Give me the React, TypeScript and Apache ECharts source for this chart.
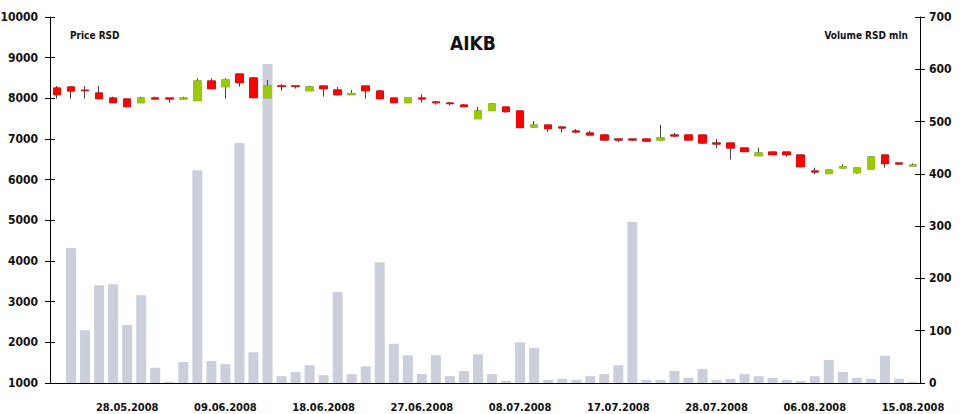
import React, { useEffect, useRef } from "react";
import * as echarts from "echarts";

const dates = [
  "21.05.2008", "22.05.2008", "23.05.2008", "26.05.2008", "27.05.2008", "28.05.2008",
  "29.05.2008", "30.05.2008", "02.06.2008", "03.06.2008", "04.06.2008", "05.06.2008",
  "09.06.2008", "10.06.2008", "11.06.2008", "12.06.2008", "13.06.2008", "16.06.2008",
  "17.06.2008", "18.06.2008", "19.06.2008", "20.06.2008", "23.06.2008", "24.06.2008",
  "25.06.2008", "26.06.2008", "27.06.2008", "30.06.2008", "01.07.2008", "02.07.2008",
  "03.07.2008", "04.07.2008", "07.07.2008", "08.07.2008", "09.07.2008", "10.07.2008",
  "11.07.2008", "14.07.2008", "15.07.2008", "16.07.2008", "17.07.2008", "18.07.2008",
  "21.07.2008", "22.07.2008", "23.07.2008", "24.07.2008", "25.07.2008", "28.07.2008",
  "29.07.2008", "30.07.2008", "31.07.2008", "01.08.2008", "04.08.2008", "05.08.2008",
  "06.08.2008", "07.08.2008", "08.08.2008", "11.08.2008", "12.08.2008", "13.08.2008",
  "14.08.2008", "15.08.2008",
];

const opens = [
  8254, 8279, 8200, 8131, 8008, 7984, 7893, 8008, 8008, 7984, 7943, 8426, 8287, 8598, 8500, 8016,
  8303, 8303, 8188, 8303, 8205, 8090, 8303, 8180, 8008, 7893, 8008, 7910, 7885, 7836, 7500, 7697,
  7787, 7689, 7295, 7344, 7295, 7197, 7148, 7098, 7000, 7000, 7000, 6975, 7098, 7098, 7098, 6902,
  6902, 6779, 6590, 6680, 6680, 6607, 6213, 6148, 6287, 6172, 6262, 6607, 6410, 6336,
];
const closes = [
  8090, 8180, 8190, 7992, 7893, 7795, 8008, 7984, 7984, 8008, 8426, 8238, 8451, 8385, 8016, 8303,
  8295, 8295, 8279, 8238, 8090, 8115, 8188, 7992, 7893, 8008, 7984, 7893, 7869, 7795, 7689, 7861,
  7672, 7279, 7344, 7254, 7270, 7172, 7098, 6975, 6975, 6975, 6950, 7025, 7074, 6975, 6902, 6877,
  6779, 6689, 6656, 6615, 6615, 6320, 6189, 6238, 6320, 6287, 6557, 6393, 6385, 6361,
];
const lows = [
  7992, 7992, 7992, 7992, 7893, 7795, 7893, 7984, 7893, 7984, 7943, 8238, 7992, 8287, 7992, 8016,
  8188, 8238, 8188, 8041, 8066, 8090, 7992, 7992, 7893, 7893, 7893, 7844, 7820, 7795, 7500, 7697,
  7648, 7279, 7279, 7180, 7156, 7148, 7098, 6975, 6926, 6950, 6926, 6975, 7041, 6975, 6877, 6779,
  6500, 6689, 6590, 6615, 6566, 6300, 6139, 6148, 6287, 6148, 6262, 6295, 6385, 6336,
];
const highs = [
  8303, 8303, 8303, 8303, 8041, 7984, 8041, 8041, 8008, 8041, 8492, 8492, 8492, 8598, 8525, 8451,
  8352, 8303, 8311, 8303, 8279, 8205, 8303, 8205, 8008, 8008, 8098, 7934, 7910, 7852, 7787, 7885,
  7787, 7689, 7443, 7344, 7295, 7246, 7197, 7123, 7000, 7000, 7000, 7344, 7148, 7098, 7098, 7000,
  6902, 6779, 6787, 6680, 6680, 6607, 6295, 6238, 6377, 6287, 6582, 6607, 6410, 6402,
];
const volumes: (number | string)[] = [
  "-", 258, 101, 187, 189, 111, 168, 29, 2, 40, 407, 42, 36, 459, 59, 610,
  13, 21, 34, 15, 174, 17, 32, 231, 75, 53, 17, 53, 13, 23, 55, 17,
  4, 78, 67, 6, 8, 6, 13, 17, 34, 308, 6, 6, 23, 10, 27, 6,
  8, 17, 13, 10, 6, 4, 13, 44, 21, 10, 8, 52, 8, 2,
];

const priceTicks = { min: 1000, max: 10000, step: 1000 };
const volumeTicks = { min: 0, max: 700, step: 100 };

// font-stretch is appended so the SVG text picks a condensed face when one exists
const FONT = "'DejaVu Sans Condensed', 'DejaVu Sans', sans-serif; font-stretch: condensed";
const UP = "#99CC00";
const DOWN = "#FF0000";

export default function App() {
  const ref = useRef<HTMLDivElement>(null);
  useEffect(() => {
    if (!ref.current) return;
    const chart = echarts.init(ref.current, undefined, { renderer: "svg" });
    const full = dates.map((_, i) => [opens[i], closes[i], lows[i], highs[i]]);
    const bodies = dates.map((_, i) => [
      opens[i],
      closes[i],
      Math.min(opens[i], closes[i]),
      Math.max(opens[i], closes[i]),
    ]);
    const labelStyle = { fontFamily: FONT, fontWeight: "bold" as const, fontSize: 12, color: "#111" };
    const plain = (v: number) => String(v);
    chart.setOption({
      animation: false,
      backgroundColor: "#fff",
      title: {
        text: "AIKB",
        left: 445,
        top: 33,
        textStyle: { fontFamily: FONT, fontWeight: "bold", fontSize: 19, color: "#111" },
      },
      grid: { left: 50, right: 48, top: 17, bottom: 31 },
      xAxis: {
        type: "category",
        data: dates,
        boundaryGap: true,
        axisLine: { show: true, lineStyle: { color: "#000", width: 1 } },
        axisTick: { show: false },
        axisLabel: {
          ...labelStyle,
          fontSize: 11,
          margin: 19,
          interval: (idx: number) => idx >= 5 && (idx - 5) % 7 === 0,
        },
        splitLine: { show: false },
      },
      yAxis: [
        {
          type: "value",
          position: "left",
          min: priceTicks.min,
          max: priceTicks.max,
          interval: priceTicks.step,
          axisLine: { show: true, lineStyle: { color: "#000", width: 1 } },
          axisTick: { show: true, length: 5, lineStyle: { color: "#000" } },
          axisLabel: { ...labelStyle, margin: 12, formatter: plain },
          splitLine: { show: false },
        },
        {
          type: "value",
          position: "right",
          min: volumeTicks.min,
          max: volumeTicks.max,
          interval: volumeTicks.step,
          axisLine: { show: true, lineStyle: { color: "#000", width: 1 } },
          axisTick: { show: true, length: 5, lineStyle: { color: "#000" } },
          axisLabel: { ...labelStyle, margin: 9, formatter: plain },
          splitLine: { show: false },
        },
        {
          type: "value",
          position: "left",
          min: priceTicks.min,
          max: priceTicks.max,
          interval: priceTicks.step,
          axisLine: { show: false },
          axisTick: { show: true, inside: true, length: 5, lineStyle: { color: "#000" } },
          axisLabel: { show: false },
          splitLine: { show: false },
        },
        {
          type: "value",
          position: "right",
          min: volumeTicks.min,
          max: volumeTicks.max,
          interval: volumeTicks.step,
          axisLine: { show: false },
          axisTick: { show: true, inside: true, length: 5, lineStyle: { color: "#000" } },
          axisLabel: { show: false },
          splitLine: { show: false },
        },
      ],
      graphic: [
        {
          type: "text",
          x: 70,
          y: 35,
          style: {
            text: "Price RSD",
            fontFamily: FONT,
            fontWeight: "bold",
            fontSize: 10,
            fill: "#111",
            align: "left",
            verticalAlign: "middle",
          },
        },
        {
          type: "text",
          x: 908,
          y: 35,
          style: {
            text: "Volume RSD mln",
            fontFamily: FONT,
            fontWeight: "bold",
            fontSize: 10,
            fill: "#111",
            align: "right",
            verticalAlign: "middle",
          },
        },
      ],
      series: [
        {
          type: "bar",
          yAxisIndex: 1,
          data: volumes,
          barWidth: 10,
          itemStyle: { color: "#CBCFDC" },
          z: 1,
        },
        {
          type: "candlestick",
          yAxisIndex: 0,
          data: full,
          barWidth: 8,
          itemStyle: { color: UP, color0: DOWN, borderColor: "#444", borderColor0: "#444", borderWidth: 1 },
          z: 2,
        },
        {
          type: "candlestick",
          yAxisIndex: 0,
          data: bodies,
          barWidth: 8,
          itemStyle: { color: UP, color0: DOWN, borderColor: UP, borderColor0: DOWN, borderWidth: 1 },
          z: 3,
        },
      ],
    });
    return () => chart.dispose();
  }, []);
  return (
    <div
      ref={ref}
      style={{ position: "absolute", left: 0, top: 0, width: 968, height: 414 }}
    />
  );
}
